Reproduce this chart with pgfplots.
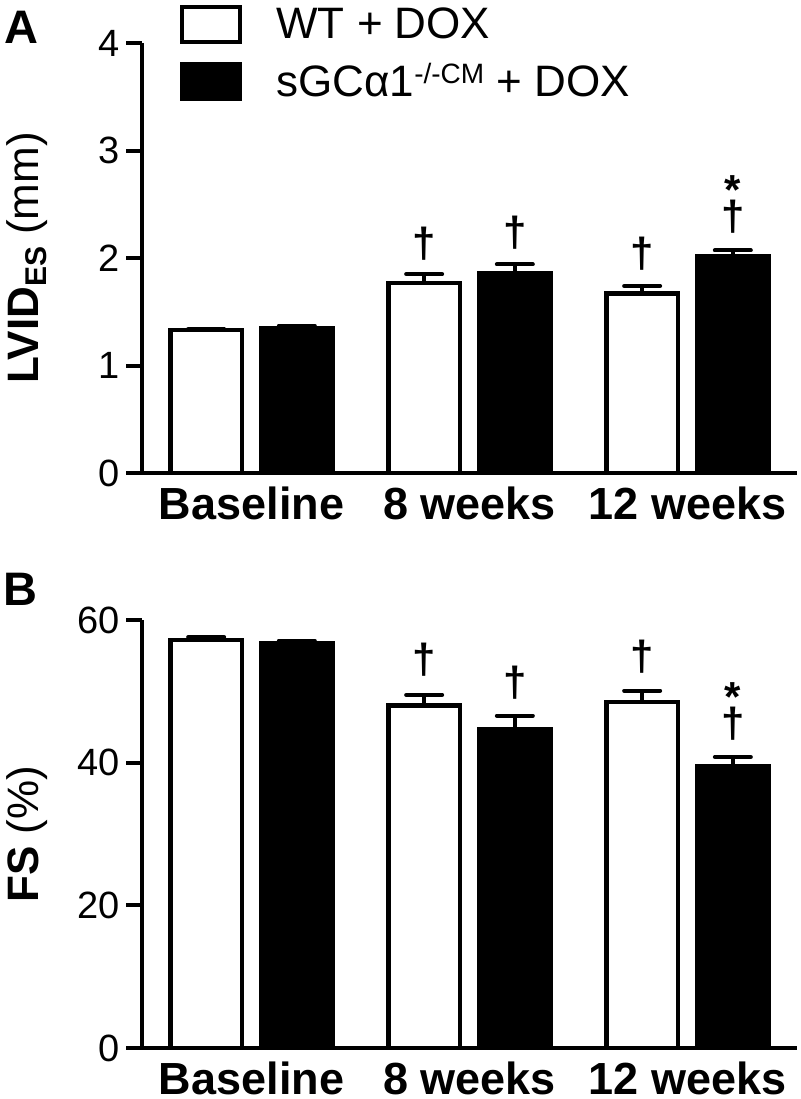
\documentclass[border=0pt]{standalone}
\usepackage{fontspec}
\setmainfont{Liberation Sans}
\usepackage{pgfplots}
\pgfplotsset{compat=1.18}
\pgfplotsset{
  panel/.style={
    scale only axis, width=327pt, clip=false,
    xmin=-0.5, xmax=2.5,
    axis x line=bottom, axis y line=left,
    axis line style={-, line width=2pt, black},
    xtick={0,1,2}, xticklabels={Baseline, 8 weeks, 12 weeks},
    x tick style={draw=none},
    xticklabel style={font=\fontsize{22.5}{22.5}\selectfont\bfseries, inner sep=1pt, yshift=2.5pt},
    y tick style={line width=2pt, black},
    tick align=outside, major tick length=8pt,
    yticklabel style={font=\fontsize{19}{19}\selectfont},
    /pgf/number format/assume math mode=true,
    ylabel style={at={(rel axis cs:0,0.5)}, anchor=center, yshift=57.5pt, font=\fontsize{22}{22}\selectfont},
  },
  barbase/.style={ybar, bar shift=0pt, bar width=0.328, draw=black, line width=2.2pt, forget plot,
    error bars/y dir=plus, error bars/y explicit,
    error bars/error bar style={line width=2pt, black},
    error bars/error mark options={rotate=90, mark size=9pt, line width=2pt, black, line cap=round}},
  wt/.style={barbase, fill=white},
  ko/.style={barbase, fill=black},
}
\tikzset{
  dag/.style={font=\fontsize{21}{21}\selectfont\bfseries, inner sep=0pt, anchor=center},
  ast/.style={font=\fontsize{21}{21}\selectfont\bfseries, inner sep=0pt, anchor=north},
  plabel/.style={font=\fontsize{23.5}{23.5}\selectfont\bfseries, inner sep=0pt, anchor=base west},
}
\begin{document}
\begin{tikzpicture}
\useasboundingbox (-71.25pt,-313pt) rectangle (328.75pt,236.5pt);
% Panel A
\begin{axis}[panel, height=215pt, at={(0pt,0pt)}, anchor=south west,
  ymin=0, ymax=4, ytick={0,1,2,3,4},
  ylabel={\textbf{LVID}\raisebox{-4pt}{\fontsize{15}{15}\selectfont\bfseries ES} (mm)},
  legend cell align=left,
  legend style={at={(0,1)}, anchor=north west, xshift=18.75pt, yshift=19.75pt,
    draw=none, fill=none, inner sep=0pt, row sep=7pt, column sep=15pt,
    nodes={inner sep=2pt}, font=\fontsize{22}{22}\selectfont},
]
\addlegendimage{legend image code/.code={\draw[line width=2pt, draw=black, fill=white] (0pt,-8.75pt) rectangle (29pt,8.75pt);}}
\addlegendentry{WT + DOX}
\addlegendimage{legend image code/.code={\draw[line width=2pt, draw=black, fill=black] (0pt,-8.75pt) rectangle (29pt,8.75pt);}}
\addlegendentry{sGCα1\raisebox{6.5pt}{\fontsize{14}{14}\selectfont -/-CM} + DOX}
\addplot[wt] coordinates {(-0.208,1.33) +- (0,0.01) (0.792,1.77) +- (0,0.08) (1.792,1.67) +- (0,0.07)};
\addplot[ko] coordinates {(0.208,1.35) +- (0,0.02) (1.208,1.86) +- (0,0.08) (2.208,2.02) +- (0,0.05)};
\node[dag] at (axis cs:0.792,2.135) {†};
\node[dag] at (axis cs:1.208,2.24) {†};
\node[dag] at (axis cs:1.792,2.04) {†};
\node[dag] at (axis cs:2.208,2.38) {†};
\node[ast] at (axis cs:2.208,2.77) {*};
\node[plabel] at ([xshift=-69pt]rel axis cs:0,1) {A};
\end{axis}
% Panel B
\begin{axis}[panel, height=214pt, at={(0pt,-287.5pt)}, anchor=south west,
  ymin=0, ymax=60, ytick={0,20,40,60},
  ylabel={\textbf{FS} (\%)},
]
\addplot[wt] coordinates {(-0.208,57.2) +- (0,0.4) (0.792,48.0) +- (0,1.5) (1.792,48.5) +- (0,1.6)};
\addplot[ko] coordinates {(0.208,56.8) +- (0,0.3) (1.208,44.7) +- (0,1.9) (2.208,39.5) +- (0,1.3)};
\node[dag] at (axis cs:0.792,54.4) {†};
\node[dag] at (axis cs:1.208,51.2) {†};
\node[dag] at (axis cs:1.792,54.9) {†};
\node[dag] at (axis cs:2.208,45.45) {†};
\node[ast] at (axis cs:2.208,51.3) {*};
\node[plabel] at ([xshift=-69.5pt, yshift=7.5pt]rel axis cs:0,1) {B};
\end{axis}
\end{tikzpicture}
\end{document}
